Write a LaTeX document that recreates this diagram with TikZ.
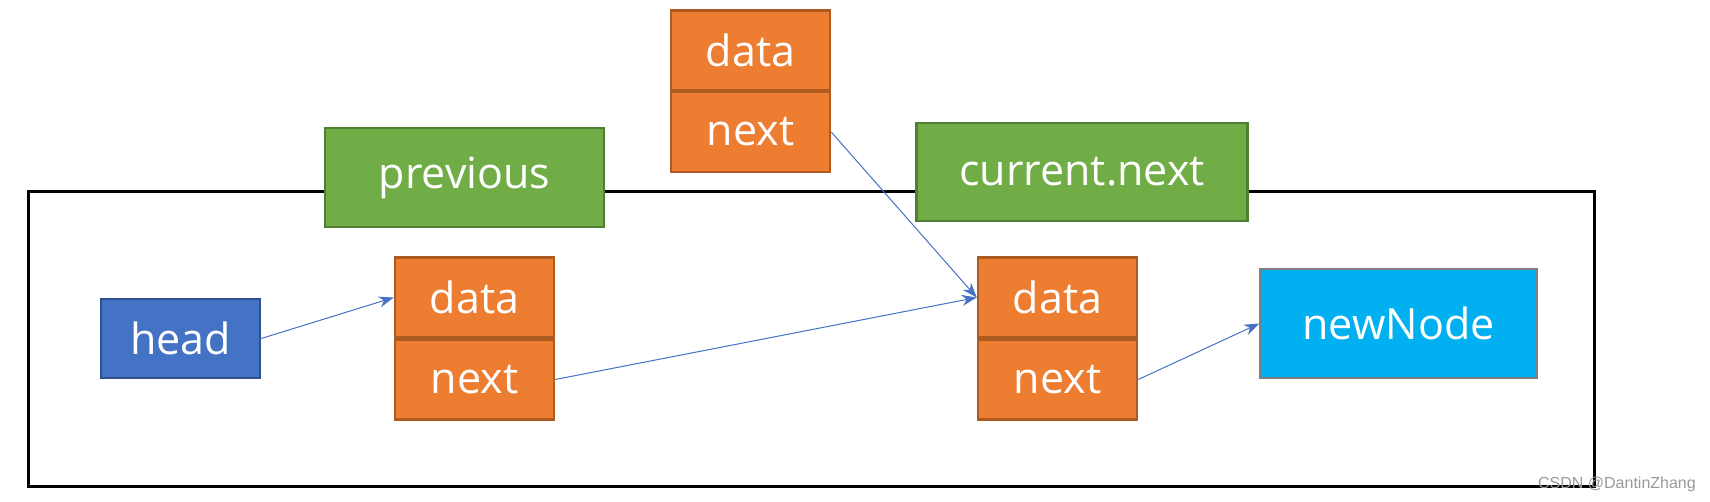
\documentclass[tikz,border=0pt]{standalone}
\usepackage{fontspec}
\setmainfont{Open Sans}
\newfontfamily\wmfont{Liberation Sans}
\usetikzlibrary{arrows.meta}
\definecolor{orfill}{HTML}{ED7D31}
\definecolor{ordraw}{HTML}{AE5A21}
\definecolor{grfill}{HTML}{70AD47}
\definecolor{grdraw}{HTML}{507E32}
\definecolor{blfill}{HTML}{4472C4}
\definecolor{bldraw}{HTML}{2F528F}
\definecolor{cyfill}{HTML}{00B0F0}
\definecolor{cydraw}{HTML}{7F7F7F}
\definecolor{arr}{HTML}{4472C4}
\tikzset{
  box/.style={rectangle, inner sep=0pt, line width=2.5pt, text=white, font=\fontsize{43}{48}\selectfont},
  cell/.style={box, fill=orfill, draw=ordraw, minimum width=159pt, minimum height=80pt},
  varbox/.style={box, fill=grfill, draw=grdraw},
  link/.style={draw=arr, line width=1pt, -{Stealth[length=15pt,width=11pt]}}
}
\begin{document}
\begin{tikzpicture}[x=1pt,y=-1pt]
\useasboundingbox (0,0) rectangle (1710,501);
\draw[line width=3pt] (28,191) rectangle (1594,486);
\node[box, fill=blfill, draw=bldraw, minimum width=159pt, minimum height=79pt] (head) at (180.5,338.5) {head};
\node[cell] (n1d) at (474.5,297.5) {data};
\node[cell] (n1n) at (474.5,379.5) {next};
\node[cell] (td) at (750.5,50.5) {data};
\node[cell] (tn) at (750.5,132) {next};
\node[cell] (n2d) at (1057.5,297.5) {data};
\node[cell] (n2n) at (1057.5,379.5) {next};
\node[varbox, minimum width=279pt, minimum height=99pt] (prev) at (464.5,177.5) {previous};
\node[varbox, minimum width=331pt, minimum height=98pt] (cur) at (1082,172) {current.next};
\node[box, fill=cyfill, draw=cydraw, minimum width=276pt, minimum height=109pt] (new) at (1398.5,323.5) {newNode};
\draw[link] (head.east) -- (n1d.west);
\draw[link] (n1n.east) -- (n2d.west);
\draw[link] (tn.east) -- (n2d.west);
\draw[link] (n2n.east) -- (new.west);
\node[anchor=east, inner sep=0pt, text=black!40, font=\wmfont\fontsize{16}{18}\selectfont] (wm) at (1696,484) {CSDN @DantinZhang};
\end{tikzpicture}
\end{document}
